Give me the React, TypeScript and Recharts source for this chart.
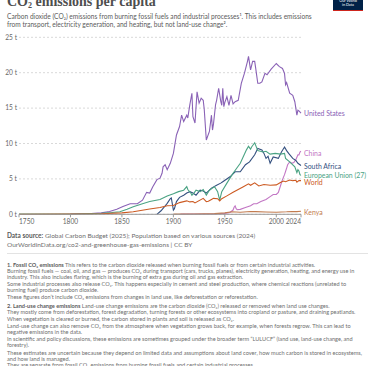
import { LineChart, Line, XAxis, YAxis, CartesianGrid } from 'recharts';

const yTicks = [0, 5, 10, 15, 20, 25];
const xTicks = [1750, 1800, 1850, 1900, 1950, 2000, 2024];

const usYears = [1800, 1810, 1820, 1830, 1838, 1845, 1851, 1858, 1865, 1870, 1874, 1877, 1880, 1884, 1887, 1889, 1890, 1892, 1894, 1897, 1900, 1903, 1906, 1908, 1910, 1913, 1914, 1916, 1918, 1919, 1921, 1923, 1925, 1927, 1929, 1930, 1932, 1935, 1937, 1938, 1939, 1941, 1942, 1944, 1946, 1947, 1948, 1949, 1950, 1952, 1954, 1956, 1958, 1960, 1963, 1966, 1969, 1972, 1973, 1975, 1977, 1979, 1980, 1982, 1984, 1986, 1989, 1991, 1995, 2000, 2003, 2006, 2008, 2009, 2010, 2013, 2016, 2018, 2020, 2021, 2022, 2024];
const usValues = [0.05, 0.08, 0.1, 0.2, 0.4, 0.7, 1.1, 1.5, 1.5, 2.0, 3.1, 3.0, 3.9, 4.9, 5.1, 5.8, 6.7, 7.0, 6.3, 7.2, 8.6, 11.2, 12.4, 14.0, 13.1, 14.0, 13.6, 15.5, 17.1, 13.8, 12.9, 17.3, 15.7, 16.4, 16.1, 14.8, 10.5, 11.7, 14.0, 11.9, 12.8, 15.5, 16.1, 17.8, 16.0, 15.4, 17.8, 15.2, 15.8, 16.6, 15.4, 16.8, 15.6, 15.9, 16.1, 18.5, 19.9, 21.6, 22.3, 20.4, 21.6, 21.6, 20.6, 18.5, 18.5, 18.7, 19.9, 19.7, 20.5, 21.3, 20.85, 20.6, 19.9, 18.3, 18.6, 17.1, 16.8, 15.9, 14.0, 14.7, 14.6, 14.3];

const chinaYears = [1907, 1920, 1930, 1940, 1950, 1955, 1958, 1959, 1960, 1961, 1962, 1965, 1970, 1975, 1978, 1981, 1985, 1990, 1994, 1997, 2000, 2002, 2004, 2006, 2008, 2010, 2011, 2013, 2015, 2017, 2019, 2021, 2022, 2023, 2024];
const chinaValues = [0.02, 0.04, 0.05, 0.06, 0.13, 0.25, 0.6, 1.0, 1.2, 0.8, 0.65, 0.7, 0.95, 1.2, 1.5, 1.5, 1.8, 2.1, 2.5, 2.8, 2.8, 3.1, 4.0, 4.9, 5.6, 6.5, 7.0, 7.4, 7.2, 7.3, 7.7, 8.4, 8.4, 8.8, 8.9];

const saYears = [1884, 1888, 1891, 1894, 1897, 1898, 1900, 1901, 1903, 1906, 1910, 1913, 1916, 1919, 1922, 1926, 1929, 1932, 1937, 1942, 1946, 1948, 1955, 1960, 1965, 1970, 1974, 1979, 1982, 1986, 1988, 1990, 1992, 1994, 1997, 2002, 2005, 2008, 2010, 2012, 2016, 2019, 2021, 2024];
const saValues = [0.0, 0.5, 1.0, 1.55, 2.2, 2.3, 0.6, 0.8, 1.8, 2.4, 2.7, 3.0, 3.2, 3.0, 2.7, 3.4, 3.3, 3.0, 3.7, 4.1, 4.4, 4.6, 5.3, 6.0, 6.0, 7.0, 7.4, 8.4, 9.3, 9.1, 8.6, 7.9, 8.2, 7.2, 8.1, 7.9, 8.8, 9.5, 9.0, 8.6, 7.9, 7.6, 7.2, 6.9];

const euYears = [1750, 1800, 1820, 1830, 1840, 1848, 1855, 1861, 1870, 1877, 1887, 1894, 1900, 1905, 1910, 1913, 1914, 1917, 1918, 1920, 1922, 1926, 1929, 1932, 1935, 1938, 1940, 1943, 1945, 1947, 1952, 1958, 1965, 1971, 1973, 1975, 1976, 1979, 1982, 1987, 1990, 1994, 1999, 2004, 2008, 2009, 2013, 2018, 2020, 2021, 2022, 2023, 2024];
const euValues = [0.02, 0.05, 0.1, 0.15, 0.25, 0.37, 0.7, 1.07, 1.5, 1.8, 2.1, 2.6, 2.9, 3.2, 3.4, 3.9, 3.5, 3.0, 2.7, 3.0, 3.4, 3.2, 3.5, 2.7, 3.4, 3.7, 3.9, 3.2, 2.0, 3.2, 4.4, 5.8, 7.2, 9.1, 9.6, 9.2, 9.5, 10.1, 9.0, 8.8, 8.9, 8.5, 8.6, 8.5, 8.6, 7.9, 7.4, 6.7, 5.9, 6.3, 6.1, 5.6, 5.5];

const worldYears = [1750, 1800, 1830, 1850, 1861, 1877, 1887, 1894, 1900, 1906, 1913, 1916, 1919, 1921, 1929, 1932, 1934, 1937, 1939, 1943, 1945, 1947, 1952, 1958, 1963, 1968, 1973, 1975, 1979, 1983, 1988, 1994, 2000, 2004, 2007, 2009, 2013, 2016, 2019, 2020, 2022, 2024];
const worldValues = [0.01, 0.04, 0.08, 0.2, 0.37, 0.75, 0.95, 1.2, 1.25, 1.65, 1.9, 1.75, 1.8, 1.6, 2.25, 1.8, 1.85, 2.1, 2.25, 2.2, 1.9, 2.2, 2.6, 3.1, 3.5, 3.9, 4.3, 4.1, 4.45, 4.0, 4.2, 4.1, 4.15, 4.5, 4.7, 4.6, 4.85, 4.75, 4.8, 4.55, 4.75, 4.75];

const kenyaYears = [1900, 1920, 1940, 1950, 1957, 1965, 1975, 1980, 1990, 2000, 2010, 2015, 2020, 2024];
const kenyaValues = [0.02, 0.05, 0.1, 0.2, 0.35, 0.3, 0.4, 0.38, 0.33, 0.3, 0.35, 0.4, 0.38, 0.42];

const toRows = (years: number[], values: number[]) =>
  years.map((year, i) => ({ year, value: values[i] }));

const series = [
  { name: 'United States', color: '#8a62b6', data: toRows(usYears, usValues), dy: 1 },
  { name: 'China', color: '#c276c4', data: toRows(chinaYears, chinaValues), dy: 2 },
  { name: 'South Africa', color: '#34507f', data: toRows(saYears, saValues), dy: 1.5 },
  { name: 'European Union (27)', color: '#4aa383', data: toRows(euYears, euValues), dy: 0 },
  { name: 'World', color: '#cc5a22', data: toRows(worldYears, worldValues), dy: 2 },
  { name: 'Kenya', color: '#c27b4f', data: toRows(kenyaYears, kenyaValues), dy: 1 },
];

const notes = [
  { t: ['1. Fossil CO₂ emissions', ' This refers to the carbon dioxide released when burning fossil fuels or from certain industrial activities.'], y: 265 },
  { t: ['', 'Burning fossil fuels — coal, oil, and gas — produces CO₂ during transport (cars, trucks, planes), electricity generation, heating, and energy use in'], y: 271 },
  { t: ['', 'industry. This also includes flaring, which is the burning of extra gas during oil and gas extraction.'], y: 276.7 },
  { t: ['', 'Some industrial processes also release CO₂. This happens especially in cement and steel production, where chemical reactions (unrelated to'], y: 284 },
  { t: ['', 'burning fuel) produce carbon dioxide.'], y: 289.5 },
  { t: ['', 'These figures don’t include CO₂ emissions from changes in land use, like deforestation or reforestation.'], y: 296.7 },
  { t: ['2. Land-use change emissions', ' Land-use change emissions are the carbon dioxide (CO₂) released or removed when land use changes.'], y: 305.7 },
  { t: ['', 'They mostly come from deforestation, forest degradation, turning forests or other ecosystems into cropland or pasture, and draining peatlands.'], y: 312.3 },
  { t: ['', 'When vegetation is cleared or burned, the carbon stored in plants and soil is released as CO₂.'], y: 319.3 },
  { t: ['', 'Land-use change can also remove CO₂ from the atmosphere when vegetation grows back, for example, when forests regrow. This can lead to'], y: 326 },
  { t: ['', 'negative emissions in the data.'], y: 331.7 },
  { t: ['', 'In scientific and policy discussions, these emissions are sometimes grouped under the broader term “LULUCF” (land use, land-use change, and'], y: 339.3 },
  { t: ['', 'forestry).'], y: 345.3 },
  { t: ['', 'These estimates are uncertain because they depend on limited data and assumptions about land cover, how much carbon is stored in ecosystems,'], y: 352.7 },
  { t: ['', 'and how land is managed.'], y: 358.7 },
  { t: ['', 'They are separate from fossil CO₂ emissions from burning fossil fuels and certain industrial processes.'], y: 365 },
];

const font = 'Lato, "Noto Sans", sans-serif';

const YTick = ({ y, payload }: any) => (
  <text x={17} y={y} dy={2.2} textAnchor="end" fontSize={6.6} fill="#666" fontFamily={font}>
    {`${payload.value} t`}
  </text>
);

const XTick = ({ x, y, payload, index }: any) => {
  const anchor = index === 0 ? 'start' : index === xTicks.length - 1 ? 'end' : 'middle';
  return (
    <text x={x} y={y} dy={5} textAnchor={anchor} fontSize={6.6} fill="#666" fontFamily={font}>
      {payload.value}
    </text>
  );
};

export default function App() {
  return (
    <div style={{ position: 'absolute', top: 0, left: 0, width: 375, height: 366, overflow: 'hidden', background: '#fff', fontFamily: font }}>
      <div style={{ position: 'absolute', left: 7, top: -5, fontFamily: '"Liberation Serif", serif', fontWeight: 700, fontSize: 14, color: '#4e4e4e', whiteSpace: 'nowrap', lineHeight: '14px' }}>
        CO<sub style={{ fontSize: 8, verticalAlign: 'baseline', position: 'relative', top: 2 }}>2</sub> emissions per capita
      </div>
      <div style={{ position: 'absolute', right: 12, top: 0, width: 30, height: 10, background: '#002147', borderBottom: '1px solid #ce261e', color: '#fff', fontSize: 3.8, lineHeight: '4px', textAlign: 'center' }}>
        <div style={{ marginTop: -1 }}>Our World</div>
        <div>in Data</div>
      </div>
      <div style={{ position: 'absolute', left: 7, top: 11.5, fontSize: 6.6, lineHeight: '8.3px', color: '#5b5b5b', whiteSpace: 'nowrap' }}>
        <div>Carbon dioxide (CO₂) emissions from burning fossil fuels and industrial processes¹. This includes emissions</div>
        <div>from transport, electricity generation, and heating, but not land-use change².</div>
      </div>

      <div style={{ position: 'absolute', left: 0, top: 0 }}>
        <LineChart width={375} height={230} margin={{ top: 37.3, right: 74, left: 0, bottom: 0 }}>
          <CartesianGrid vertical={false} stroke="#d9d9d9" strokeDasharray="2 2" />
          <XAxis
            dataKey="year"
            type="number"
            domain={[1750, 2024]}
            ticks={xTicks}
            allowDuplicatedCategory={false}
            tick={<XTick />}
            tickSize={3}
            tickLine={{ stroke: '#999' }}
            axisLine={{ stroke: '#999' }}
            height={15.7}
            interval={0}
          />
          <YAxis
            type="number"
            domain={[0, 25]}
            ticks={yTicks}
            tick={<YTick />}
            tickLine={false}
            axisLine={false}
            width={19}
            interval={0}
          />
          {series.map((s) => (
            <Line
              key={s.name}
              data={s.data}
              dataKey="value"
              type="linear"
              stroke={s.color}
              strokeWidth={1.1}
              dot={false}
              isAnimationActive={false}
              label={(p: any) =>
                p.index === s.data.length - 1 ? (
                  <text key={s.name} x={p.x + 3} y={p.y + s.dy} dy={2.3} fontSize={6.9} fill={s.color} fontFamily={font}>
                    {s.name}
                  </text>
                ) : (
                  <g key={`${s.name}-${p.index}`} />
                )
              }
            />
          ))}
        </LineChart>
      </div>

      <div style={{ position: 'absolute', left: 7, top: 230.5, fontSize: 6.5, lineHeight: '9px', color: '#6e6e6e', whiteSpace: 'nowrap' }}>
        <div><b style={{ color: '#5b5b5b' }}>Data source:</b> Global Carbon Budget (2025); Population based on various sources (2024)</div>
        <div>OurWorldinData.org/co2-and-greenhouse-gas-emissions | CC BY</div>
      </div>
      <div style={{ position: 'absolute', left: 7, top: 253, width: 361, height: 0, borderTop: '1px solid #e3e3e3' }} />
      {notes.map((n, i) => (
        <div key={i} style={{ position: 'absolute', left: 7, top: n.y - 3, fontSize: 5.6, lineHeight: '6px', color: '#6e6e6e', whiteSpace: 'nowrap' }}>
          {n.t[0] && <b style={{ color: '#5b5b5b' }}>{n.t[0]}</b>}
          {n.t[1]}
        </div>
      ))}
    </div>
  );
}
